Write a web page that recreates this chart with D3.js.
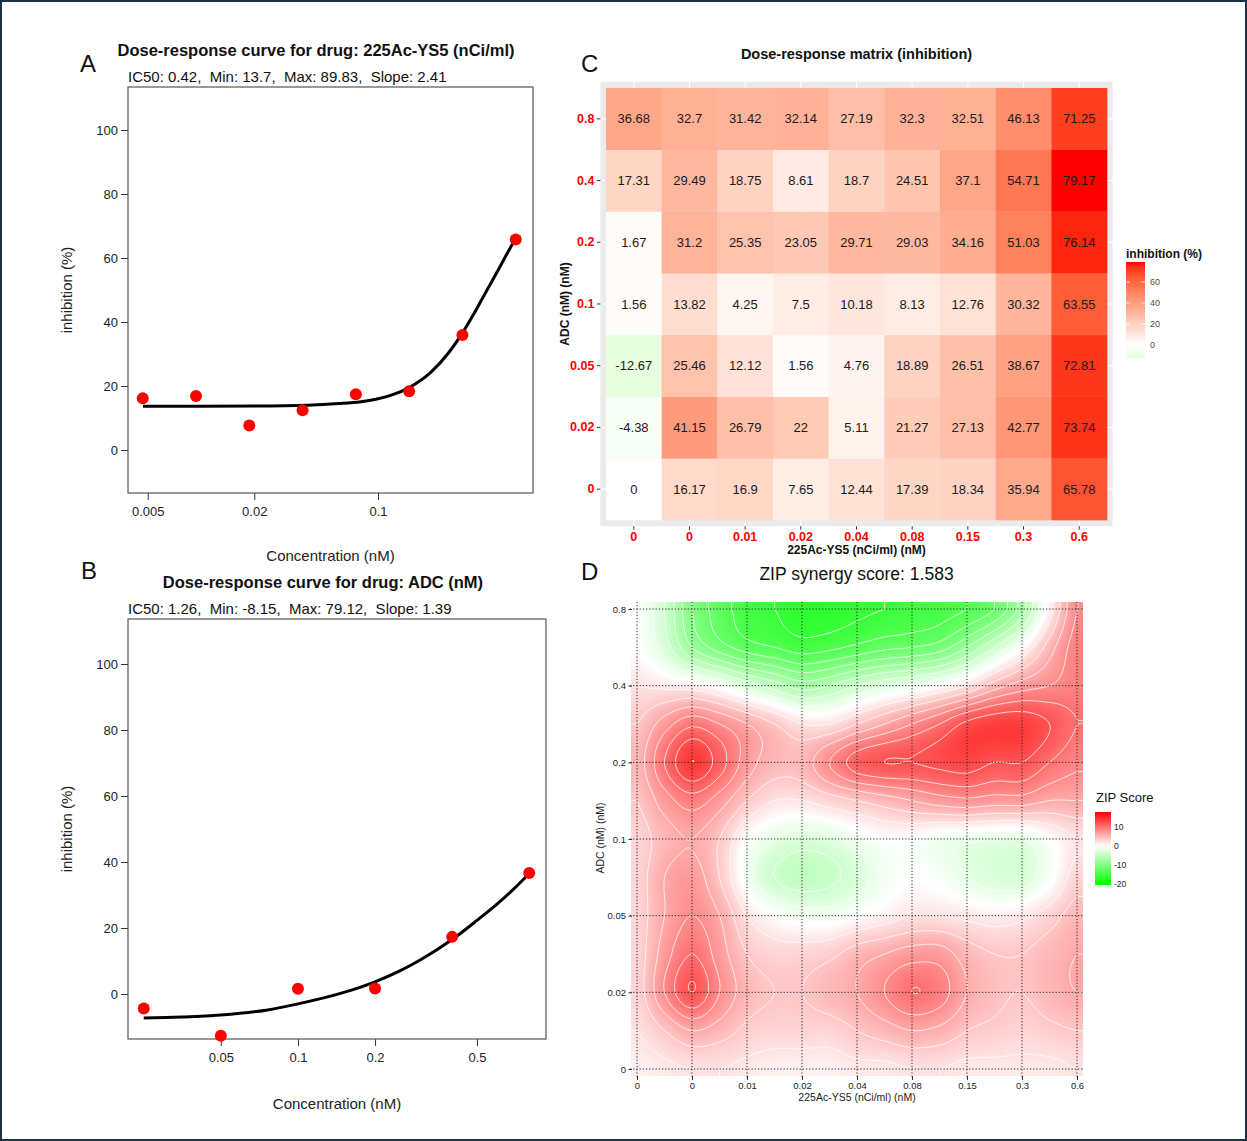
<!DOCTYPE html>
<html>
<head>
<meta charset="utf-8">
<script src="https://cdn.jsdelivr.net/npm/d3@7"></script>
<style>
  body { margin: 0; background: #fff; }
  svg { display: block; font-family: "Liberation Sans", Arial, Helvetica, sans-serif; }
</style>
</head>
<body>
<svg id="fig" width="1247" height="1141"></svg>
<script>
// ---------------- data ----------------
var acLabels = ["0", "0", "0.01", "0.02", "0.04", "0.08", "0.15", "0.3", "0.6"];
var adcLabels = ["0", "0.02", "0.05", "0.1", "0.2", "0.4", "0.8"];

// inhibition (%) matrix, rows = ADC 0 -> 0.8, cols = 225Ac-YS5 0 -> 0.6
var inhibition = [
  [0, 16.17, 16.9, 7.65, 12.44, 17.39, 18.34, 35.94, 65.78],
  [-4.38, 41.15, 26.79, 22, 5.11, 21.27, 27.13, 42.77, 73.74],
  [-12.67, 25.46, 12.12, 1.56, 4.76, 18.89, 26.51, 38.67, 72.81],
  [1.56, 13.82, 4.25, 7.5, 10.18, 8.13, 12.76, 30.32, 63.55],
  [1.67, 31.2, 25.35, 23.05, 29.71, 29.03, 34.16, 51.03, 76.14],
  [17.31, 29.49, 18.75, 8.61, 18.7, 24.51, 37.1, 54.71, 79.17],
  [36.68, 32.7, 31.42, 32.14, 27.19, 32.3, 32.51, 46.13, 71.25]
];

// single drug doses (the non-zero concentrations)
var acConc = [0.0046875, 0.009375, 0.01875, 0.0375, 0.075, 0.15, 0.3, 0.6];
var adcConc = [0.025, 0.05, 0.1, 0.2, 0.4, 0.8];

var acCurve = [[0.0047, 13.7], [0.01, 13.7], [0.02, 13.75], [0.04, 14.0], [0.06, 14.5],
  [0.08, 15.1], [0.1, 16.0], [0.12, 17.2], [0.15, 19.5], [0.2, 24.4], [0.25, 30.3],
  [0.3, 36.6], [0.35, 42.8], [0.4, 48.6], [0.45, 53.7], [0.5, 58.3], [0.55, 62.5], [0.6, 66.2]];
var adcCurve = [[0.025, -7.3], [0.035, -7.0], [0.05, -6.4], [0.075, -4.9], [0.1, -3.0],
  [0.15, 0.4], [0.2, 3.7], [0.25, 7.0], [0.3, 10.3], [0.4, 16.5], [0.5, 22.3],
  [0.6, 27.3], [0.7, 32.0], [0.8, 36.5]];

// ZIP delta surface, read at half steps: rows ADC 0.8 (top) -> 0, cols 225Ac 0 -> 0.6
var zipGrid = [
  [0, -4, -10, -13, -15, -16, -17, -17, -16.5, -16, -15.5, -15, -14, -12, -7, 1, 8],
  [0, -3, -8, -11, -13, -14, -15, -14.5, -13.5, -12.5, -12, -11, -8, -4, 0, 5, 9],
  [2, 1.5, 1, -0.5, -3, -5, -7, -6, -4, -2.5, -1.5, 0, 2, 5, 7, 8, 9],
  [4, 7, 9.5, 8, 6, 4, 2, 2, 4, 6, 8, 10, 12.5, 13.5, 13.5, 12, 10],
  [5, 10, 14, 11, 7, 5, 5, 8, 11, 12, 12, 12.5, 13, 12, 12, 10, 8.5],
  [4, 7, 9, 7, 4, 2, 2, 3, 4, 5, 6, 7, 7.5, 7, 7, 6, 6],
  [3, 5, 6, 4, 0, -2, -3, -2.5, -1, 0, 0, -1, -1.5, -2, -2, 0, 2],
  [3, 6, 7, 4, -1, -4, -5, -4.5, -3, -1, 0, -0.5, -2, -3, -3, -0.5, 3],
  [3, 6, 8, 6, 2, 0, -1, -1, 0, 1, 2, 2, 1.5, 1, 1.5, 3, 5],
  [3, 7, 10, 7, 4, 3, 3, 3.5, 5, 6, 7, 7, 5, 4, 4, 5, 6],
  [3, 8, 12, 8, 5, 4, 4, 5, 6, 8, 10, 9, 6, 4.5, 4, 5, 6],
  [2, 4, 6, 5, 3.5, 3, 3, 3, 4, 5, 6, 5.5, 4, 3.5, 3, 3.5, 4],
  [1, 1.5, 2, 2, 1.5, 1, 1, 1, 1.5, 1.5, 2, 2, 1.5, 1.5, 1.5, 1.5, 2]
];
var zipScore = "1.583";

// ---------------- figure ----------------
var svg = d3.select("#fig");

svg.append("rect")
  .attr("x", 1).attr("y", 1).attr("width", 1245).attr("height", 1139)
  .attr("fill", "#fff").attr("stroke", "#1c3146").attr("stroke-width", 2);

function letter(t, x, y) {
  svg.append("text").attr("x", x).attr("y", y).attr("font-size", 24).attr("fill", "#111").text(t);
}
letter("A", 80, 72);
letter("B", 81, 579);
letter("C", 581, 72);
letter("D", 581, 580);

function styleAxis(a, size, color, weight) {
  a.select(".domain").remove();
  a.selectAll("text")
    .attr("font-size", size).attr("fill", color).attr("font-weight", weight || "normal")
    .attr("font-family", '"Liberation Sans", Arial, sans-serif');
  a.selectAll("line").attr("stroke", "#333");
}

// ---------- dose response panels (A, B) ----------
function drawDose(cfg) {
  var g = svg.append("g");
  var x = d3.scaleLog().domain(cfg.xDomain).range([cfg.left, cfg.right]);
  var y = d3.scaleLinear().domain(cfg.yDomain).range([cfg.bottom, cfg.top]);

  g.append("text")
    .attr("x", cfg.titleX).attr("y", cfg.titleY)
    .attr("text-anchor", "middle").attr("font-size", 16.5).attr("font-weight", "bold")
    .attr("fill", "#111").text(cfg.title);
  g.append("text")
    .attr("x", cfg.left).attr("y", cfg.subY)
    .attr("font-size", 15).attr("fill", "#111").style("white-space", "pre")
    .text(cfg.sub);

  var ya = g.append("g").attr("transform", "translate(" + cfg.left + ",0)")
    .call(d3.axisLeft(y).tickValues([0, 20, 40, 60, 80, 100]).tickSize(7).tickPadding(3));
  styleAxis(ya, 13, "#222");
  var xa = g.append("g").attr("transform", "translate(0," + cfg.bottom + ")")
    .call(d3.axisBottom(x).tickValues(cfg.xTicks).tickSize(7).tickPadding(7).tickFormat(d => String(d)));
  styleAxis(xa, 13, "#222");

  g.append("rect")
    .attr("x", cfg.left).attr("y", cfg.top)
    .attr("width", cfg.right - cfg.left).attr("height", cfg.bottom - cfg.top)
    .attr("fill", "none").attr("stroke", "#555").attr("stroke-width", 1.2);

  g.append("path")
    .datum(cfg.curve)
    .attr("fill", "none").attr("stroke", "#000").attr("stroke-width", 3)
    .attr("d", d3.line().x(d => x(d[0])).y(d => y(d[1])).curve(d3.curveMonotoneX));

  g.selectAll("circle.pt")
    .data(cfg.conc.map((c, i) => [c, cfg.resp[i]]))
    .enter().append("circle")
    .attr("class", "pt")
    .attr("cx", d => x(d[0])).attr("cy", d => y(d[1])).attr("r", 6)
    .attr("fill", "#f00");

  g.append("text")
    .attr("x", (cfg.left + cfg.right) / 2).attr("y", cfg.xTitleY)
    .attr("text-anchor", "middle").attr("font-size", 15).attr("fill", "#222")
    .text("Concentration (nM)");
  g.append("text")
    .attr("transform", "translate(72," + ((cfg.top + cfg.bottom) / 2) + ") rotate(-90)")
    .attr("text-anchor", "middle").attr("font-size", 15).attr("fill", "#222")
    .text("inhibition (%)");
}

drawDose({
  title: "Dose-response curve for drug: 225Ac-YS5 (nCi/ml)", titleX: 316, titleY: 56,
  sub: "IC50: 0.42,  Min: 13.7,  Max: 89.83,  Slope: 2.41", subY: 82,
  left: 128, right: 533, top: 87, bottom: 493,
  xDomain: [0.00387, 0.751], yDomain: [-13.44, 113.44],
  xTicks: [0.005, 0.02, 0.1], xTitleY: 561,
  conc: acConc, resp: inhibition[0].slice(1), curve: acCurve
});

drawDose({
  title: "Dose-response curve for drug: ADC (nM)", titleX: 323, titleY: 588,
  sub: "IC50: 1.26,  Min: -8.15,  Max: 79.12,  Slope: 1.39", subY: 614,
  left: 128, right: 546, top: 619, bottom: 1039,
  xDomain: [0.0217, 0.93], yDomain: [-13.64, 113.64],
  xTicks: [0.05, 0.1, 0.2, 0.5], xTitleY: 1109,
  conc: adcConc, resp: inhibition.slice(1).map(r => r[0]), curve: adcCurve
});

// ---------- C: dose-response matrix ----------
(function () {
  var g = svg.append("g");
  var cx = d3.scaleBand().domain(d3.range(9)).range([600.4, 1112.6]).paddingInner(0).paddingOuter(0.1);
  var cy = d3.scaleBand().domain(d3.range(7)).range([526.2, 81.8]).paddingInner(0).paddingOuter(0.1);
  var maxAbs = d3.max(inhibition.flat(), v => Math.abs(v));
  var lo = d3.min(inhibition.flat()), hi = d3.max(inhibition.flat());
  var toRed = d3.interpolateLab("#ffffff", "#ff0000");
  var toGreen = d3.interpolateLab("#ffffff", "#00ff00");
  var col = v => v >= 0 ? toRed(v / maxAbs) : toGreen(-v / maxAbs);

  g.append("text")
    .attr("x", 856.5).attr("y", 59).attr("text-anchor", "middle")
    .attr("font-size", 14.5).attr("font-weight", "bold").attr("fill", "#111")
    .text("Dose-response matrix (inhibition)");

  g.append("rect")
    .attr("x", 600.4).attr("y", 81.8).attr("width", 512.2).attr("height", 444.4)
    .attr("fill", "#ebebeb");
  g.selectAll("line.gx").data(d3.range(9)).enter().append("line")
    .attr("x1", d => cx(d) + cx.bandwidth() / 2).attr("x2", d => cx(d) + cx.bandwidth() / 2)
    .attr("y1", 81.8).attr("y2", 526.2).attr("stroke", "#fff").attr("stroke-width", 1.1);
  g.selectAll("line.gy").data(d3.range(7)).enter().append("line")
    .attr("y1", d => cy(d) + cy.bandwidth() / 2).attr("y2", d => cy(d) + cy.bandwidth() / 2)
    .attr("x1", 600.4).attr("x2", 1112.6).attr("stroke", "#fff").attr("stroke-width", 1.1);

  var cells = [];
  inhibition.forEach((row, r) => row.forEach((v, c) => cells.push({ r: r, c: c, v: v })));

  g.selectAll("rect.tile").data(cells).enter().append("rect")
    .attr("x", d => cx(d.c)).attr("y", d => cy(d.r))
    .attr("width", cx.bandwidth() + 0.3).attr("height", cy.bandwidth() + 0.3)
    .attr("fill", d => col(d.v));
  g.selectAll("text.val").data(cells).enter().append("text")
    .attr("x", d => cx(d.c) + cx.bandwidth() / 2).attr("y", d => cy(d.r) + cy.bandwidth() / 2)
    .attr("dy", "0.35em").attr("text-anchor", "middle")
    .attr("font-size", 13).attr("fill", "#1a1a1a")
    .text(d => String(d.v));

  var ya = g.append("g").attr("transform", "translate(600.4,0)")
    .call(d3.axisLeft(cy).tickSize(3.5).tickPadding(2.5).tickFormat(i => adcLabels[i]));
  styleAxis(ya, 12.5, "#ff0000", "bold");
  var xa = g.append("g").attr("transform", "translate(0,526.2)")
    .call(d3.axisBottom(cx).tickSize(3.5).tickPadding(2.5).tickFormat(i => acLabels[i]));
  styleAxis(xa, 12.5, "#ff0000", "bold");

  g.append("text")
    .attr("x", 856.5).attr("y", 553.5).attr("text-anchor", "middle")
    .attr("font-size", 12).attr("font-weight", "bold").attr("fill", "#111")
    .text("225Ac-YS5 (nCi/ml) (nM)");
  g.append("text")
    .attr("transform", "translate(569,304) rotate(-90)").attr("text-anchor", "middle")
    .attr("font-size", 12).attr("font-weight", "bold").attr("fill", "#111")
    .text("ADC (nM) (nM)");

  // legend
  var ly = d3.scaleLinear().domain([lo, hi]).range([358, 262]);
  var grad = svg.append("defs").append("linearGradient")
    .attr("id", "gradC").attr("x1", 0).attr("y1", 1).attr("x2", 0).attr("y2", 0);
  d3.range(0, 1.0001, 0.05).forEach(t => {
    grad.append("stop").attr("offset", t).attr("stop-color", col(lo + t * (hi - lo)));
  });
  g.append("text").attr("x", 1126).attr("y", 258)
    .attr("font-size", 12).attr("font-weight", "bold").attr("fill", "#111").text("inhibition (%)");
  g.append("rect").attr("x", 1126).attr("y", 262).attr("width", 19).attr("height", 96)
    .attr("fill", "url(#gradC)");
  [0, 20, 40, 60].forEach(v => {
    g.append("line").attr("x1", 1126).attr("x2", 1130).attr("y1", ly(v)).attr("y2", ly(v))
      .attr("stroke", "#fff").attr("stroke-width", 0.8);
    g.append("line").attr("x1", 1141).attr("x2", 1145).attr("y1", ly(v)).attr("y2", ly(v))
      .attr("stroke", "#fff").attr("stroke-width", 0.8);
    g.append("text").attr("x", 1150).attr("y", ly(v)).attr("dy", "0.35em")
      .attr("font-size", 9).attr("fill", "#4d4d4d").text(v);
  });
})();

// ---------- D: ZIP synergy surface ----------
(function () {
  var g = svg.append("g");
  var zx = d3.scaleLinear().domain([0, 8]).range([637, 1077]);
  var zy = d3.scaleLinear().domain([0, 6]).range([1069, 609]);
  var zLo = -20.7, zHi = 17.9;
  var toRed = d3.interpolateRgb("#ffffff", "#ff0000");
  var toGreen = d3.interpolateRgb("#ffffff", "#00ff00");
  var zcol = v => v >= 0 ? toRed(Math.min(1, v / zHi)) : toGreen(Math.min(1, v / zLo));

  var nR = zipGrid.length, nC = zipGrid[0].length;
  var clampI = (i, n) => Math.max(0, Math.min(n - 1, i));
  function cubic(p0, p1, p2, p3, t) {
    return p1 + 0.5 * t * (p2 - p0 + t * (2 * p0 - 5 * p1 + 4 * p2 - p3 + t * (3 * (p1 - p2) + p3 - p0)));
  }
  function zipAt(px, py) {
    var gc = Math.max(0, Math.min(nC - 1, zx.invert(px) * 2));
    var gr = Math.max(0, Math.min(nR - 1, (6 - zy.invert(py)) * 2));
    var c = Math.min(nC - 2, Math.floor(gc)), r = Math.min(nR - 2, Math.floor(gr));
    var tc = gc - c, tr = gr - r, rows = [];
    for (var k = -1; k <= 2; k++) {
      var R = zipGrid[clampI(r + k, nR)];
      rows.push(cubic(R[clampI(c - 1, nC)], R[c], R[clampI(c + 1, nC)], R[clampI(c + 2, nC)], tc));
    }
    return cubic(rows[0], rows[1], rows[2], rows[3], tr);
  }

  g.append("text")
    .attr("x", 856.5).attr("y", 580).attr("text-anchor", "middle")
    .attr("font-size", 17.5).attr("fill", "#111")
    .text("ZIP synergy score: " + zipScore);

  var rx0 = zx(0) - 6, rx1 = zx(8) + 6, ry0 = zy(6) - 7, ry1 = zy(0) + 7;
  var W = Math.round(rx1 - rx0), H = Math.round(ry1 - ry0);

  // raster
  var canvas = document.createElement("canvas");
  canvas.width = W; canvas.height = H;
  var ctx = canvas.getContext("2d");
  var img = ctx.createImageData(W, H);
  for (var j = 0; j < H; j++) {
    for (var i = 0; i < W; i++) {
      var c = d3.rgb(zcol(zipAt(rx0 + i + 0.5, ry0 + j + 0.5)));
      var o = (j * W + i) * 4;
      img.data[o] = c.r; img.data[o + 1] = c.g; img.data[o + 2] = c.b; img.data[o + 3] = 255;
    }
  }
  ctx.putImageData(img, 0, 0);
  g.append("image").attr("x", rx0).attr("y", ry0).attr("width", W).attr("height", H)
    .attr("preserveAspectRatio", "none").attr("href", canvas.toDataURL());

  // contour lines
  var cs = 2, pad = 10;
  var nx = Math.ceil((W + 2 * pad) / cs), ny = Math.ceil((H + 2 * pad) / cs);
  var vals = new Array(nx * ny);
  for (var b = 0; b < ny; b++)
    for (var a = 0; a < nx; a++)
      vals[b * nx + a] = zipAt(rx0 - pad + (a + 0.5) * cs, ry0 - pad + (b + 0.5) * cs);
  var conts = d3.contours().size([nx, ny]).thresholds(d3.range(-20, 19, 2))(vals);
  var path = d3.geoPath(d3.geoIdentity().scale(cs).translate([rx0 - pad, ry0 - pad]));
  svg.append("defs").append("clipPath").attr("id", "clipD")
    .append("rect").attr("x", rx0).attr("y", ry0).attr("width", W).attr("height", H);
  g.append("g").attr("clip-path", "url(#clipD)")
    .selectAll("path").data(conts).enter().append("path")
    .attr("d", path).attr("fill", "none")
    .attr("stroke", "#fff").attr("stroke-opacity", 0.8).attr("stroke-width", 0.9);

  // dotted grid
  g.selectAll("line.vx").data(d3.range(9)).enter().append("line")
    .attr("x1", d => zx(d)).attr("x2", d => zx(d)).attr("y1", ry0).attr("y2", ry1 + 3)
    .attr("stroke", "#222").attr("stroke-width", 1).attr("stroke-dasharray", "1.2,2");
  g.selectAll("line.hy").data(d3.range(7)).enter().append("line")
    .attr("y1", d => zy(d)).attr("y2", d => zy(d)).attr("x1", rx0 - 1).attr("x2", rx1)
    .attr("stroke", "#222").attr("stroke-width", 1).attr("stroke-dasharray", "1.2,2");

  var ya = g.append("g").attr("transform", "translate(" + (rx0 + 1) + ",0)")
    .call(d3.axisLeft(zy).tickValues(d3.range(7)).tickSize(3.5).tickPadding(2.5).tickFormat(i => adcLabels[i]));
  styleAxis(ya, 9.5, "#222");
  var xa = g.append("g").attr("transform", "translate(0," + (ry1) + ")")
    .call(d3.axisBottom(zx).tickValues(d3.range(9)).tickSize(4).tickPadding(2).tickFormat(i => acLabels[i]));
  styleAxis(xa, 9.5, "#222");

  g.append("text")
    .attr("x", 857).attr("y", 1101).attr("text-anchor", "middle")
    .attr("font-size", 10.5).attr("fill", "#222").text("225Ac-YS5 (nCi/ml) (nM)");
  g.append("text")
    .attr("transform", "translate(604,838) rotate(-90)").attr("text-anchor", "middle")
    .attr("font-size", 10.5).attr("fill", "#222").text("ADC (nM) (nM)");

  // legend
  var ly = d3.scaleLinear().domain([zLo, zHi]).range([885, 812]);
  var grad = svg.append("defs").append("linearGradient")
    .attr("id", "gradD").attr("x1", 0).attr("y1", 1).attr("x2", 0).attr("y2", 0);
  d3.range(0, 1.0001, 0.05).forEach(t => {
    grad.append("stop").attr("offset", t).attr("stop-color", zcol(zLo + t * (zHi - zLo)));
  });
  g.append("text").attr("x", 1096).attr("y", 802)
    .attr("font-size", 13).attr("fill", "#111").text("ZIP Score");
  g.append("rect").attr("x", 1095).attr("y", 812).attr("width", 16).attr("height", 73)
    .attr("fill", "url(#gradD)");
  [10, 0, -10, -20].forEach(v => {
    g.append("text").attr("x", 1114).attr("y", ly(v)).attr("dy", "0.35em")
      .attr("font-size", 8.5).attr("fill", "#222").text(v);
  });
})();
</script>
</body>
</html>
